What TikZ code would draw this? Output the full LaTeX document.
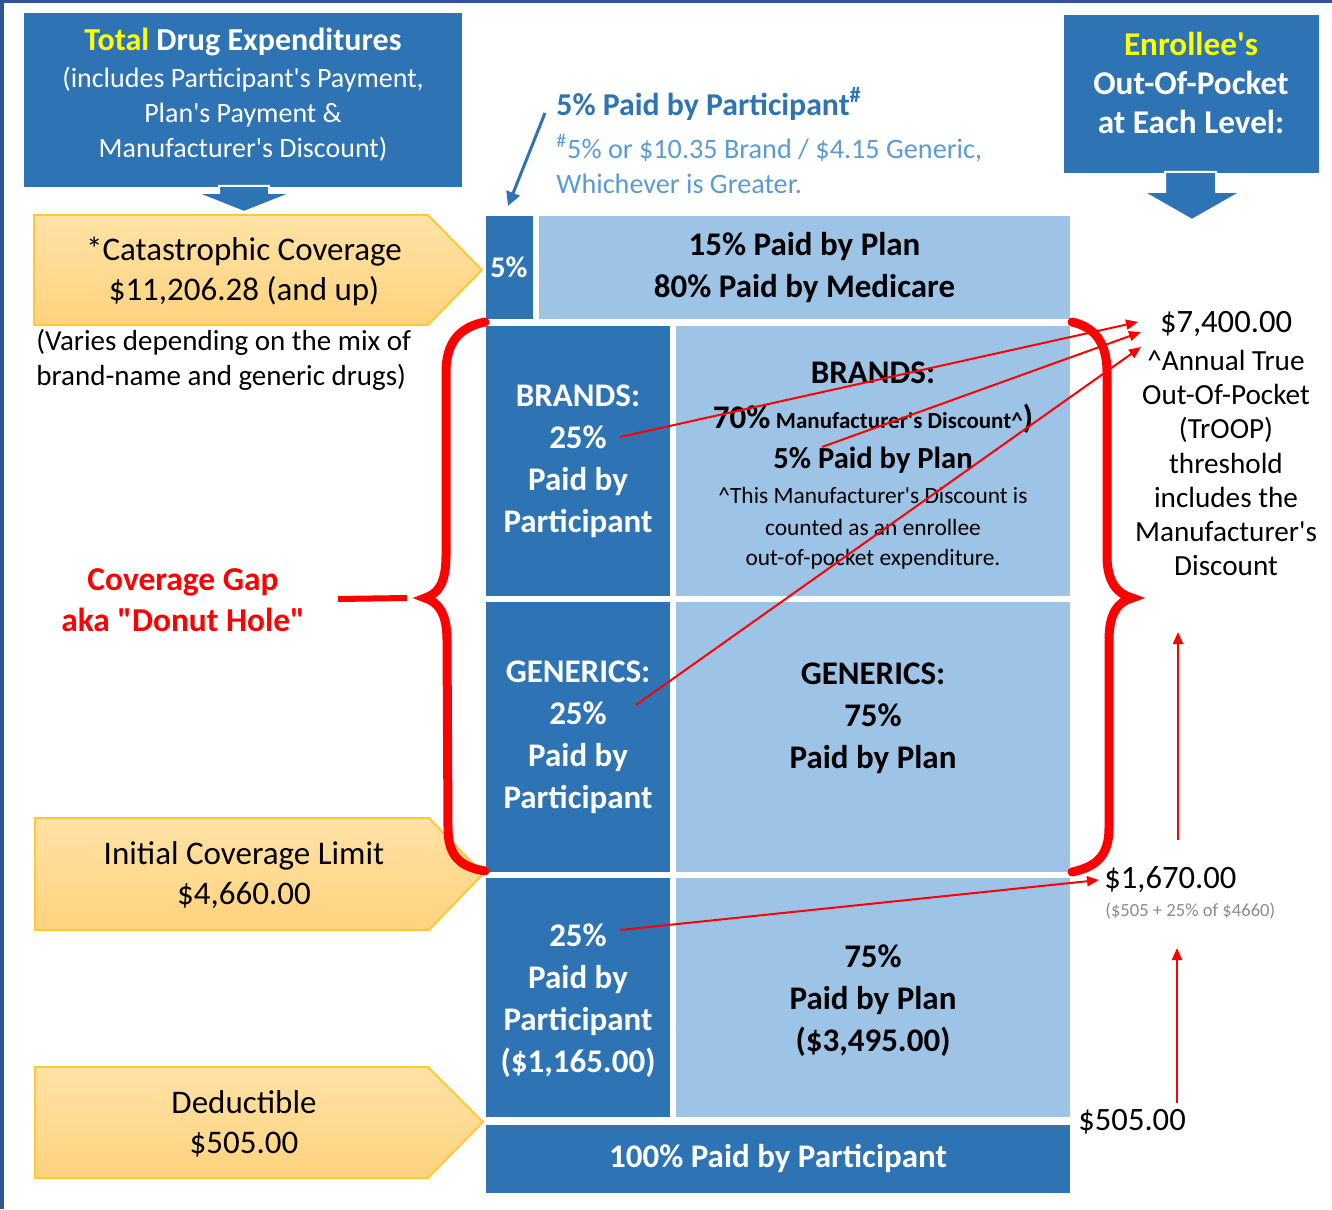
\documentclass[tikz,border=0pt]{standalone}
\usepackage{fontspec}
\setmainfont{Carlito}[Ligatures=TeXOff]
\usetikzlibrary{calc}
\usetikzlibrary{positioning}
\usetikzlibrary{arrows.meta}

\definecolor{darkblue}{HTML}{2E74B5}
\definecolor{lightblue}{HTML}{9DC3E6}
\definecolor{frameblue}{HTML}{2F5597}
\definecolor{goldtop}{HTML}{FFE2A6}
\definecolor{goldbot}{HTML}{FFD37E}
\definecolor{goldline}{HTML}{FFC83A}
\definecolor{noteblue}{HTML}{5B9BD5}
\definecolor{hiyellow}{HTML}{FFFF00}
\definecolor{notegray}{HTML}{8C8C8C}

\begin{document}
\begin{tikzpicture}[x=0.5pt,y=-0.5pt]
\tikzstyle{dark}=[rectangle,align=center,fill=darkblue,inner sep=0pt,text=white,font=\bfseries\fontsize{16.5}{21}\selectfont]
\tikzstyle{light}=[rectangle,align=center,fill=lightblue,inner sep=0pt,text=black,font=\bfseries\fontsize{16.5}{21}\selectfont]
\tikzstyle{level}=[draw=goldline,line width=1pt,top color=goldtop,bottom color=goldbot]
\tikzstyle{levtext}=[align=center,inner sep=0pt,font=\fontsize{16.5}{20}\selectfont]
\tikzstyle{redarrow}=[draw=red,line width=1pt,-{Triangle[length=6pt,width=5pt]}]
\tikzstyle{brace}=[draw=red,line width=4.5pt,line cap=round]
\tikzstyle{headbox}=[rectangle,align=center,fill=darkblue,inner sep=0pt,text=white]
\tikzstyle{blockarrow}=[fill=darkblue,draw=white,line width=1pt]
\tikzstyle{amount}=[inner sep=0pt,font=\fontsize{16.3}{18}\selectfont]

\useasboundingbox (0,0) rectangle (1332,1209);
% frame
\fill[frameblue] (0,0) rectangle (4,1209);
\fill[frameblue] (0,0) rectangle (1332,3);

% header boxes
\node[headbox,minimum width=219pt,minimum height=87pt] at (243,100) (total) {};
\node[align=center,text=white,inner sep=0pt,font=\fontsize{14}{17.5}\selectfont] at (243,95) (totaltext)
  {{\bfseries\fontsize{16}{17.5}\selectfont\textcolor{hiyellow}{Total} Drug Expenditures}\\[1pt]
   (includes Participant's Payment,\\
   Plan's Payment \&\\
   Manufacturer's Discount)};
\fill[blockarrow] (219,186) -- (269,186) -- (269,193) -- (292,193) -- (244,212)
  -- (196,193) -- (219,193) -- cycle;

\node[headbox,minimum width=127.5pt,minimum height=79pt] at (1191,94) (enrollee) {};
\node[align=center,text=white,inner sep=0pt,font=\bfseries\fontsize{16.6}{19.5}\selectfont] at (1191,83) (enrolleetext)
  {\textcolor{hiyellow}{Enrollee's}\\Out-Of-Pocket\\at Each Level:};
\fill[blockarrow] (1165,172) -- (1216,172) -- (1216,192) -- (1241,192) -- (1192,220)
  -- (1143,192) -- (1165,192) -- cycle;

% levels
\draw[level] (34,215) -- (428,215) -- (482,270) -- (428,325) -- (34,325) -- cycle;
\node[levtext] at (244,271) (catastrophic) {*Catastrophic Coverage\\\$11,206.28 (and up)};
\node[align=left,anchor=west,inner sep=0pt,font=\fontsize{14.5}{17.5}\selectfont] at (36,360) (varies)
  {(Varies depending on the mix of\\brand-name and generic drugs)};
\draw[level] (35,818) -- (429,818) -- (483,874) -- (429,930) -- (35,930) -- cycle;
\node[levtext] at (244,875) (initial) {Initial Coverage Limit\\\$4,660.00};
\draw[level] (35,1067) -- (428,1067) -- (483,1122) -- (428,1178) -- (35,1178) -- cycle;
\node[levtext] at (244,1124) (deductible) {Deductible\\\$505.00};

% columns
\node[dark,minimum width=23.5pt,minimum height=51pt,font=\bfseries\fontsize{15}{18}\selectfont] at (509,267.5) (cat5) {5\%};
\node[light,minimum width=265.5pt,minimum height=51pt] at (804.5,267.5) (catplan) {15\% Paid by Plan\\80\% Paid by Medicare};
\node[dark,minimum width=92pt,minimum height=135pt] at (578,461) (brandL) {BRANDS:\\25\%\\Paid by\\Participant};
\node[light,minimum width=197pt,minimum height=135pt] at (873,461) (brandR) {};
\node[align=center,inner sep=0pt,font=\fontsize{11.7}{15}\selectfont] at (873,466) (brandtext)
  {{\bfseries\fontsize{16.5}{20}\selectfont BRANDS:}\\[7.5pt]
   {\bfseries\fontsize{16.5}{20}\selectfont 70\%\,{\fontsize{11.5}{14}\selectfont Manufacturer's Discount\textasciicircum})}\\[5pt]
   {\bfseries\fontsize{15.3}{20}\selectfont 5\% Paid by Plan}\\[2.5pt]
   \textasciicircum This Manufacturer's Discount is\\[1pt]
   counted as an enrollee\\
   out-of-pocket expenditure.};
\node[dark,minimum width=92pt,minimum height=135pt] at (578,737) (genL) {GENERICS:\\25\%\\Paid by\\Participant};
\node[light,minimum width=197pt,minimum height=135pt] at (873,737) (genR) {GENERICS:\\75\%\\Paid by Plan\\\mbox{}};
\node[dark,minimum width=92pt,minimum height=119.5pt] at (578,997.5) (iniL) {};
\node[align=center,inner sep=0pt,text=white,font=\bfseries\fontsize{16.5}{21}\selectfont] at (578,1001) (iniLtext)
  {25\%\\Paid by\\Participant\\(\$1,165.00)};
\node[light,minimum width=197pt,minimum height=119.5pt] at (873,997.5) (iniR) {};
\node[align=center,inner sep=0pt,font=\bfseries\fontsize{16.5}{21}\selectfont] at (873,1001) (iniRtext)
  {75\%\\Paid by Plan\\(\$3,495.00)};
\node[dark,minimum width=292pt,minimum height=34pt] at (778,1158.5) (full) {100\% Paid by Participant};

% 5% note
\node[anchor=west,inner sep=0pt,text=darkblue,font=\bfseries\fontsize{15.9}{18}\selectfont] at (556,104) (pct5)
  {5\% Paid by Participant\textsuperscript{\#}};
\node[anchor=west,align=left,inner sep=0pt,text=noteblue,font=\fontsize{14.1}{17.5}\selectfont] at (556,164) (pct5note)
  {\textsuperscript{\#}5\% or \$10.35 Brand / \$4.15 Generic,\\Whichever is Greater.};
\coordinate (pct5s) at (545,113);
\coordinate (pct5e) at (508,206);
\draw[darkblue,line width=1.5pt,-{Triangle[length=7pt,width=7pt]}] (pct5s) -- (pct5e);

% coverage gap
\node[align=center,inner sep=0pt,text=red,font=\bfseries\fontsize{16.7}{20.5}\selectfont] at (183,600) (gap)
  {Coverage Gap\\aka "Donut Hole"};
\draw[red,line width=3pt] (338,599) -- (407,598);
\draw[brace] (485,322) .. controls (460,327) and (446,342) .. (446,372) -- (446,556)
  .. controls (446,583) and (438,594) .. (425,598) .. controls (438,602) and (447,613) .. (447,640)
  -- (448,828) .. controls (448,857) and (461,867) .. (485,871);
\draw[brace] (1072,322) .. controls (1094,327) and (1107,342) .. (1107,372) -- (1107,556)
  .. controls (1107,583) and (1118,594) .. (1132,598) .. controls (1118,602) and (1109,613) .. (1109,640)
  -- (1109,828) .. controls (1109,857) and (1095,867) .. (1072,872);

% out of pocket amounts
\node[amount] at (1226,324) (t7400) {\$7,400.00};
\node[align=center,inner sep=0pt,font=\fontsize{14.6}{17.1}\selectfont] at (1226,463) (troop)
  {\textasciicircum Annual True\\Out-Of-Pocket\\(TrOOP)\\threshold\\includes the\\Manufacturer's\\Discount};
\node[amount,anchor=west] at (1104,880) (t1670) {\$1,670.00};
\node[anchor=west,inner sep=0pt,text=notegray,font=\fontsize{9.3}{11}\selectfont] at (1105,911) (t1670note)
  {(\$505 + 25\% of \$4660)};
\node[amount,anchor=west] at (1078,1122) (t505) {\$505.00};

% red arrows
\coordinate (b25) at (620,437);
\coordinate (bplan) at (822,447);
\coordinate (g25) at (636,705);
\coordinate (i25) at (620,930);
\coordinate (tipA) at (1138,322);
\coordinate (tipB) at (1141,332);
\coordinate (tipC) at (1141,347);
\coordinate (tipD) at (1099,880);
\coordinate (upAs) at (1178,840);
\coordinate (upAe) at (1178,632);
\coordinate (upBs) at (1177,1103);
\coordinate (upBe) at (1177,948);
\draw[redarrow] (b25) -- (tipA);
\draw[redarrow] (bplan) -- (tipB);
\draw[redarrow] (g25) -- (tipC);
\draw[redarrow] (i25) -- (tipD);
\draw[redarrow] (upAs) -- (upAe);
\draw[redarrow] (upBs) -- (upBe);
\end{tikzpicture}
\end{document}
